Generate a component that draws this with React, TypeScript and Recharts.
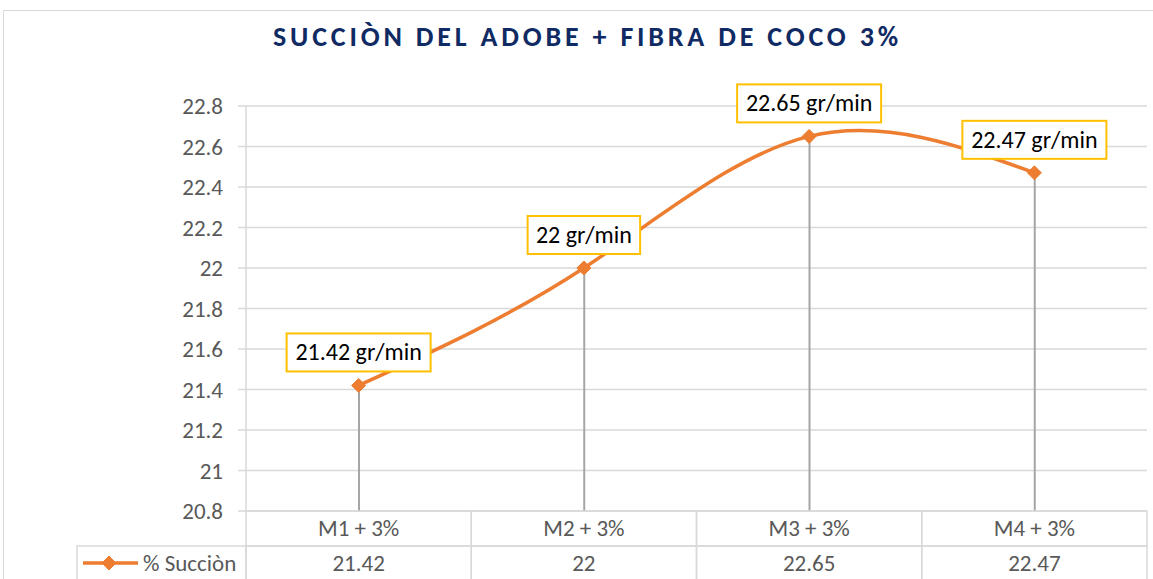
import React from "react";
import { ComposedChart, Line, Bar, XAxis, YAxis, CartesianGrid, LabelList } from "recharts";

const categories = ["M1 + 3%", "M2 + 3%", "M3 + 3%", "M4 + 3%"];
const succion = [21.42, 22, 22.65, 22.47];
const yTicks = [20.8, 21, 21.2, 21.4, 21.6, 21.8, 22, 22.2, 22.4, 22.6, 22.8];
const seriesName = "% Succiòn";
const unit = "gr/min";
const title = "SUCCIÒN DEL ADOBE + FIBRA DE COCO 3%";

const data = categories.map((name, i) => ({ name, value: succion[i] }));

const FONT = "Calibri, Carlito, 'Liberation Sans', Arial, sans-serif";
const ORANGE = "#ED7D31";
const GRID = "#D9D9D9";
const TEXT = "#595959";
const BAND = (1147 - 246) / categories.length;

function Diamond({ cx, cy, r = 7 }: { cx?: number; cy?: number; r?: number }) {
  if (cx == null || cy == null) return null;
  return (
    <polygon
      points={`${cx},${cy - r} ${cx + r},${cy} ${cx},${cy + r} ${cx - r},${cy}`}
      fill={ORANGE}
      stroke={ORANGE}
    />
  );
}

function BoxLabel(props: any) {
  const { x, y, value } = props;
  const text = `${value} ${unit}`;
  const w = text.length * 10.5 + 18;
  const h = 38;
  const top = y - 14 - h;
  return (
    <g>
      <rect x={x - w / 2} y={top} width={w} height={h} fill="#fff" stroke="#FFC000" strokeWidth={2} />
      <text x={x} y={top + h / 2 + 8} textAnchor="middle" fontSize={24} fill="#000" fontFamily={FONT}>
        {text}
      </text>
    </g>
  );
}

function TableTick(props: any) {
  const { x, y, payload, index } = props;
  const i = payload?.index ?? index;
  const left = x - BAND / 2;
  const rowH = 35;
  return (
    <g fontFamily={FONT}>
      <rect x={left} y={y} width={BAND} height={rowH} fill="none" stroke={GRID} strokeWidth={1.5} />
      <rect x={left} y={y + rowH} width={BAND} height={rowH} fill="none" stroke={GRID} strokeWidth={1.5} />
      <text x={x} y={y + 25} textAnchor="middle" fontSize={23} fill={TEXT}>
        {payload.value}
      </text>
      <text x={x} y={y + rowH + 25} textAnchor="middle" fontSize={23} fill={TEXT}>
        {succion[i]}
      </text>
      {i === 0 && (
        <g>
          <rect x={77} y={y + rowH} width={left - 77} height={rowH} fill="none" stroke={GRID} strokeWidth={1.5} />
          <line x1={83} x2={138} y1={y + rowH + 17} y2={y + rowH + 17} stroke={ORANGE} strokeWidth={3.5} />
          <Diamond cx={109} cy={y + rowH + 17} r={7} />
          <text x={143} y={y + rowH + 25} fontSize={23} fill={TEXT}>
            {seriesName}
          </text>
        </g>
      )}
    </g>
  );
}

export default function App() {
  return (
    <div
      style={{
        position: "absolute",
        left: 0,
        top: 0,
        width: 1153,
        height: 579,
        overflow: "hidden",
        background: "#fff",
      }}
    >
      <div
        style={{
          position: "absolute",
          left: 3,
          top: 10,
          width: 1200,
          height: 700,
          border: `1.5px solid ${GRID}`,
        }}
      />
      <div
        style={{
          position: "absolute",
          top: 20,
          left: 11,
          width: 1153,
          textAlign: "center",
          fontFamily: FONT,
          fontWeight: 700,
          fontSize: 28,
          lineHeight: "34px",
          letterSpacing: 3.8,
          color: "#102A63",
        }}
      >
        {title}
      </div>
      <div style={{ position: "absolute", left: 0, top: 0 }}>
        <ComposedChart width={1153} height={579} data={data} margin={{ top: 106, right: 6, bottom: 0, left: 0 }}>
          <CartesianGrid vertical={false} stroke={GRID} strokeWidth={1.5} />
          <YAxis
            width={246}
            domain={[20.8, 22.8]}
            ticks={yTicks}
            interval={0}
            tickFormatter={(v: number) => String(Number(v.toFixed(1)))}
            tick={{ fill: TEXT, fontSize: 23, fontFamily: FONT }}
            tickSize={8}
            tickMargin={15}
            stroke={GRID}
            axisLine={{ stroke: GRID, strokeWidth: 1.5 }}
            tickLine={{ stroke: GRID, strokeWidth: 1.5 }}
          />
          <XAxis
            dataKey="name"
            height={68}
            axisLine={false}
            tickLine={false}
            tickSize={0}
            tickMargin={0}
            interval={0}
            tick={<TableTick />}
          />
          <Bar dataKey="value" barSize={2} fill="#A5A5A5" isAnimationActive={false} />
          <Line
            type="natural"
            dataKey="value"
            stroke={ORANGE}
            strokeWidth={3.5}
            dot={<Diamond r={7} />}
            activeDot={false}
            isAnimationActive={false}
          >
            <LabelList dataKey="value" content={<BoxLabel />} />
          </Line>
        </ComposedChart>
      </div>
    </div>
  );
}
